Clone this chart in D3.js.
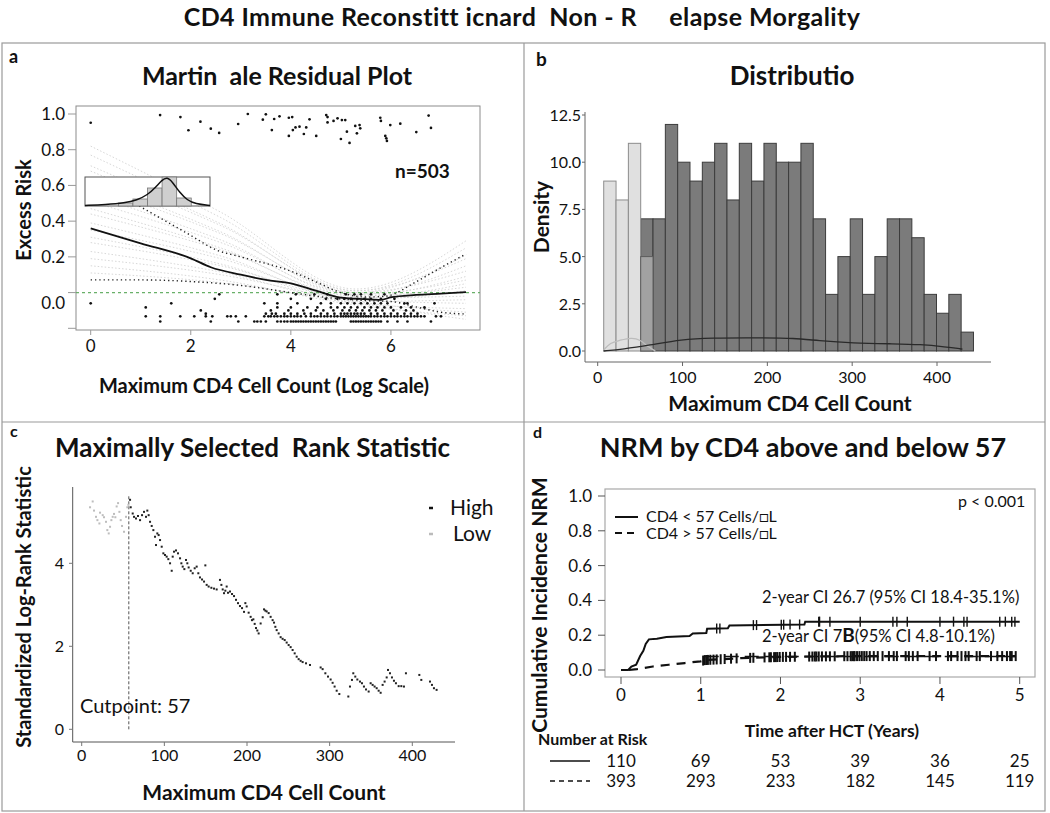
<!DOCTYPE html>
<html>
<head>
<meta charset="utf-8">
<script src="https://cdn.jsdelivr.net/npm/d3@7"></script>
<style>
  body { margin: 0; background: #fff; }
  text { font-family: Lato, "Open Sans", sans-serif; fill: #111; }
  .bold { font-weight: 700; }
</style>
</head>
<body>
<svg id="fig" width="1050" height="813"></svg>
<script>
// ---------- data: panel a (martingale residuals) ----------
let residTop = [[0,0.951],[1.387,0.994],[1.793,0.983],[1.953,0.909],[2.193,0.957],[2.4,0.918],[2.567,0.894],
  [2.947,0.944],[3.14,1.0],[3.44,0.968],[3.5,0.998],[3.62,0.91],[3.667,0.972],[3.773,0.987],[3.96,0.979],
  [4.027,0.983],[3.96,0.877],[4.04,0.91],[4.093,0.925],[4.173,0.929],[4.26,0.888],[4.307,0.925],[4.373,0.97],
  [4.507,0.877],[4.707,0.994],[4.733,0.983],[4.733,0.953],[4.853,0.961],[4.933,0.976],[5.02,0.966],[5.0,0.86],
  [5.087,0.966],[5.12,0.901],[5.173,0.838],[5.287,0.933],[5.32,0.892],[5.387,0.92],[5.373,0.938],[5.787,0.979],
  [5.8,0.961],[5.887,0.877],[5.92,0.849],[5.907,0.864],[5.987,0.938],[6.187,0.946],[6.507,0.899],[6.753,0.991],[6.8,0.922]];

// bottom cluster, listed as rows of equal residual
let residRows = [
  {y: -0.162, xs: [1.39,2.4,2.95,3.27,3.33,3.4,3.5,3.73,3.8,3.87,3.93,4.0,4.05,4.1,4.15,4.2,4.25,4.3,4.35,4.4,4.45,4.5,
    4.55,4.6,4.65,4.7,4.75,4.8,4.85,4.9,5.2,5.25,5.3,5.35,5.4,5.45,5.5,5.55,5.6,5.65,5.7,5.75,5.8,5.93,6.13,6.33,6.8]},
  {y: -0.133, xs: [1.1,1.39,1.79,2.07,2.3,2.43,2.73,2.8,2.9,3.1,3.47,3.55,3.6,3.67,3.73,3.8,3.87,3.93,4.0,4.07,4.13,4.2,
    4.3,4.4,4.47,4.53,4.6,4.67,4.73,4.8,4.87,4.93,5.0,5.05,5.1,5.15,5.2,5.25,5.3,5.35,5.4,5.45,5.5,5.55,5.6,5.67,5.73,
    5.8,5.87,5.93,6.0,6.07,6.13,6.2,6.27,6.33,6.4,6.47,6.53,6.6,6.67,6.9,7.0]},
  {y: -0.118, xs: [2.3,3.5,3.62,3.7,3.87,4.0,4.13,4.27,4.4,4.6,4.73,4.87,5.0,5.07,5.13,5.2,5.27,5.33,5.4,5.47,5.6,5.73,
    5.87,6.0,6.13,6.27,6.4,6.53]},
  {y: -0.1, xs: [2.2,3.6,3.95,4.25,4.5,4.65,4.85,5.03,5.17,5.3,5.43,5.57,5.7,5.83,6.05,6.3,6.45]},
  {y: -0.083, xs: [1.1,3.73,4.0,4.33,4.53,4.8,4.93,5.07,5.2,5.33,5.47,5.6,5.73,5.87,6.0,6.2,6.4,6.67]},
  {y: -0.06, xs: [0,1.61,3.47,3.73,4.13,4.6,4.8,5.0,5.13,5.27,5.4,5.53,5.67,5.8,5.93,6.27,6.33,6.87]},
  {y: -0.035, xs: [2.48,4.0,4.4,4.7,4.93,5.07,5.2,5.33,5.47,5.6,5.8,6.07]},
  {y: -0.01, xs: [2.57,3.73,4.1,4.47,4.73,5.1,5.27,5.4,5.6,5.87]}
];

let smoothFit = [[0,0.36],[1,0.276],[2,0.192],[2.4,0.142],[3,0.1],[3.5,0.071],[4,0.052],[4.5,0.011],[5,-0.028],
  [5.5,-0.037],[5.8,-0.041],[6,-0.026],[6.5,-0.013],[7,-0.006],[7.5,0.002]];
let bandUpper = [[0,0.64],[1,0.48],[2,0.32],[2.5,0.24],[3,0.2],[4,0.12],[4.5,0.06],[5,0.0],[5.5,-0.025],
  [5.9,-0.02],[6.5,0.06],[7,0.14],[7.5,0.216]];
let bandLower = [[0,0.071],[1,0.071],[2,0.062],[3,0.04],[4,0.0],[4.8,-0.03],[5.5,-0.045],[6,-0.05],[6.5,-0.08],
  [7,-0.11],[7.5,-0.12]];

// faint resampled fits: value at x=0, x=5.3 and x=7.5
let simStart = [0.82,0.77,0.71,0.68,0.63,0.6,0.55,0.51,0.47,0.44,0.39,0.35,0.31,0.28,0.23,0.19,0.15,0.11];
let simMid   = [0.02,0.01,0.0,0.01,-0.01,0.0,-0.02,-0.01,-0.03,-0.02,-0.04,-0.03,-0.05,-0.04,-0.06,-0.05,-0.07,-0.06];
let simEnd   = [0.29,0.25,0.21,0.19,0.15,0.12,0.09,0.07,0.05,0.03,0.01,-0.02,-0.04,-0.06,-0.09,-0.11,-0.13,-0.15];

let insetBinStart = -1.4, insetBinWidth = 0.7;
let insetCounts = [3, 7, 18, 29, 8];
let insetDensity = [[-3,0.5],[-2,1.5],[-1.1,3],[-0.5,6],[0,11],[0.4,19],[0.7,26],[0.94,29],[1.2,24],[1.56,13],
  [1.9,6],[2.3,2],[3,0.5]];

// ---------- data: panel b (histogram) ----------
let binStart = 7.1, binWidth = 14.53;
let lowCounts = [9, 8, 11, 5];          // bins 0..3
let highCounts = [7,7,12,10,9,10,11,8,11,9,11,10,10,11,7,3,5,7,3,5,7,7,6,3,2,3,1];  // bins 3..29
let highDensity = [[7,0],[30,0.1],[60,0.3],[100,0.62],[130,0.7],[200,0.7],[230,0.68],[260,0.55],[300,0.42],
  [350,0.38],[380,0.35],[410,0.22],[430,0.1]];
let lowDensity = [[7,0.05],[15,0.45],[25,0.55],[40,0.72],[50,0.6],[60,0.2],[68,0]];

// ---------- data: panel c (max selected rank statistic) ----------
let statLow = [[10.1,5.35],[13.3,5.49],[14.9,5.27],[17.3,5.12],[19.0,5.04],[21.4,4.96],[22.2,5.22],[25.4,5.16],
  [27.0,5.11],[29.4,5.0],[31.0,4.8],[32.7,4.72],[34.3,4.88],[35.9,5.04],[37.5,5.12],[39.1,5.19],[40.7,5.11],
  [42.3,5.37],[44.0,5.45],[45.6,5.24],[47.2,5.04],[48.8,4.9],[51.2,4.76],[53.6,5.12],[55.2,5.35],[56.5,5.41]];
let statHigh = [[58.5,5.53],[59.3,5.35],[61.7,5.2],[63.3,5.12],[65.7,5.08],[68.1,5.14],[70.6,5.04],[73,5.16],
  [75.4,5.24],[77.8,5.12],[79.4,5.27],[81,5.16],[82.7,5.0],[84.7,4.9],[86.7,4.8],[88.7,4.64],[89.9,4.44],
  [91.5,4.72],[93.1,4.68],[94.8,4.56],[96.8,4.4],[98.8,4.24],[100.8,4.2],[102.8,4.16],[104.8,4.1],[106.9,4.0],
  [108.9,3.82],[110.1,4.16],[111.7,4.28],[114.1,4.31],[116.5,4.24],[119,4.12],[120.6,4.0],[122.2,3.92],
  [124.2,3.86],[126.2,4.08],[127.8,4.0],[129.4,3.9],[131.9,3.82],[134.3,3.76],[136.7,3.88],[139.1,3.92],
  [141.1,3.76],[143.1,3.66],[145.6,3.61],[148,3.56],[149.6,3.95],[151.2,3.48],[153.6,3.44],[156.9,3.41],
  [160.1,3.39],[163.3,3.37],[167.3,3.6],[169,3.48],[170.6,3.37],[172.2,3.28],[173.8,3.34],[175.4,3.44],
  [177,3.29],[179.4,3.32],[181.9,3.26],[184.3,3.21],[186.7,3.12],[189.1,3.04],[191.5,2.97],[194,2.92],
  [196.4,2.83],[198,3.04],[199.6,2.96],[202,2.81],[204.4,2.71],[206,2.63],[207.7,2.65],[209.3,2.54],
  [210.9,2.44],[212.5,2.38],[214.1,2.31],[216.5,2.55],[219,2.7],[220.6,2.89],[222.2,2.86],[223.8,2.84],
  [226.2,2.8],[228.6,2.71],[231,2.63],[232.7,2.57],[234.3,2.47],[235.9,2.39],[238.3,2.31],[240.7,2.22],
  [243.1,2.18],[245.6,2.15],[248,2.09],[250.4,2.03],[252.8,1.98],[255.2,1.91],[257.7,1.83],[260.1,1.75],
  [262.5,1.69],[264.9,1.65],[267.3,1.62],[271.4,1.59],[276.2,1.55],[289.1,1.49],[291.5,1.45],[294.8,1.35],
  [298,1.27],[301.2,1.2],[303.6,1.12],[306,1.03],[308.5,0.93],[311.7,0.85],[322.6,0.79],[324.6,1.03],
  [327,1.19],[328.6,1.35],[331,1.27],[333.5,1.2],[336.7,1.15],[339.1,1.11],[341.5,1.03],[344,0.96],
  [347.2,0.91],[349.6,1.11],[352,1.07],[354.4,1.03],[356.9,0.99],[359.3,0.93],[361.7,0.88],[364.1,1.07],
  [366.5,1.15],[369,1.25],[370.6,1.43],[373,1.35],[375.4,1.25],[377.8,1.17],[380.2,1.11],[383.5,1.04],
  [386.7,1.04],[389.9,1.03],[392.3,1.35],[408.5,1.31],[410.9,1.19],[421.4,1.15],[423.8,1.07],[426.2,0.99],
  [429.4,0.95]];
let cutpoint = 57;

// ---------- data: panel d (cumulative incidence) ----------
let ciLow = [[0,0],[0.09,0],[0.13,0.02],[0.19,0.03],[0.24,0.08],[0.28,0.11],[0.31,0.15],[0.35,0.176],[0.45,0.18],
  [0.57,0.19],[0.86,0.195],[0.9,0.21],[1.07,0.213],[1.08,0.237],[1.34,0.24],[1.36,0.256],[2.3,0.262],
  [2.31,0.278],[5,0.278]];
let ciHigh = [[0.1,0],[0.2,0.005],[0.4,0.02],[0.6,0.03],[0.8,0.04],[1.0,0.05],[1.05,0.057],[1.5,0.068],
  [2.0,0.075],[2.5,0.078],[3,0.08],[4.95,0.08]];
let censorLow = [1.2,1.24,1.66,1.7,2.01,2.04,2.12,2.24,2.48,2.49,2.62,3.0,3.41,3.46,3.59,4.0,4.17,4.3,4.34,
  4.75,4.82,4.9,4.94];
let censorHigh = [1.03,1.05,1.07,1.09,1.12,1.16,1.2,1.25,1.3,1.38,1.45,1.62,1.66,1.8,1.86,1.88,1.92,1.94,1.96,
  1.99,2.03,2.07,2.12,2.18,2.36,2.4,2.43,2.45,2.48,2.52,2.57,2.62,2.68,2.8,2.84,2.88,2.9,2.92,2.93,2.96,2.99,
  3.02,3.05,3.08,3.12,3.17,3.22,3.28,3.36,3.42,3.46,3.57,3.61,3.66,3.72,3.87,3.95,4.1,4.14,4.22,4.27,4.32,
  4.36,4.46,4.5,4.64,4.72,4.78,4.84,4.88,4.9,4.95];
let riskTimes = [0, 1, 2, 3, 4, 5];
let riskLow = [110, 69, 53, 39, 36, 25];
let riskHigh = [393, 293, 233, 182, 145, 119];

// ---------- figure ----------
const svg = d3.select("#fig");
svg.append("rect").attr("width", 1050).attr("height", 813).attr("fill", "#fff");

svg.append("text")
    .attr("x", 522).attr("y", 26).attr("text-anchor", "middle")
    .attr("class", "bold")
    .style("font-size", "25px").style("letter-spacing", "0.4px").attr("xml:space", "preserve")
    .text("CD4 Immune Reconstitt icnard  Non - R     elapse Morgality");

// panel frame
const frame = svg.append("g").attr("stroke", "#9a9a9a").attr("fill", "none").attr("stroke-width", 1.2);
frame.append("rect").attr("x", 2).attr("y", 43).attr("width", 1043).attr("height", 768);
frame.append("line").attr("x1", 524).attr("x2", 524).attr("y1", 43).attr("y2", 811);
frame.append("line").attr("x1", 2).attr("x2", 1045).attr("y1", 422).attr("y2", 422);

function label(g, x, y, txt, size, opts = {}) {
    let t = g.append("text").attr("x", x).attr("y", y)
        .attr("text-anchor", opts.anchor || "start")
        .style("font-size", size + "px")
        .text(txt);
    if (opts.bold) t.attr("class", "bold");
    if (opts.rotate) t.attr("transform", `rotate(-90,${x},${y})`);
    if (opts.fill) t.style("fill", opts.fill);
    if (opts.pre) t.attr("xml:space", "preserve");
    return t;
}

// ================= panel a =================
{
    const g = svg.append("g");
    const x = d3.scaleLinear().domain([0, 7.78]).range([90.7, 480]);
    const y = d3.scaleLinear().domain([-0.2, 1]).range([328.3, 114]);
    const line = d3.line().x(d => x(d[0])).y(d => y(d[1]));

    label(g, 9, 63, "a", 18, {bold: true});
    label(g, 277, 85, "Martin  ale Residual Plot", 25, {bold: true, anchor: "middle", pre: true});

    g.append("rect").attr("x", 76).attr("y", 106).attr("width", 404).attr("height", 224)
        .attr("fill", "#fff").attr("stroke", "#8c8c8c");
    g.append("clipPath").attr("id", "clipA").append("rect")
        .attr("x", 76).attr("y", 106).attr("width", 404).attr("height", 224);
    const inner = g.append("g").attr("clip-path", "url(#clipA)");

    simStart.forEach((s, i) => {
        inner.append("path")
            .attr("d", d3.line().x(d => x(d[0])).y(d => y(d[1])).curve(d3.curveMonotoneX)([[0, s], [2.6, (s + simMid[i]) * 0.5 + 0.03], [5.3, simMid[i]], [7.5, simEnd[i]]]))
            .attr("fill", "none").attr("stroke", "#d3d3d3").attr("stroke-width", 0.9)
            .attr("stroke-dasharray", "1.5,2");
    });

    inner.append("line").attr("x1", 76).attr("x2", 480).attr("y1", y(0)).attr("y2", y(0))
        .attr("stroke", "#69b069").attr("stroke-width", 1.3).attr("stroke-dasharray", "3,3");

    [bandUpper, bandLower].forEach(b => inner.append("path")
        .attr("d", line.curve(d3.curveMonotoneX)(b))
        .attr("fill", "none").attr("stroke", "#222").attr("stroke-width", 1.4)
        .attr("stroke-dasharray", "1.3,3"));
    inner.append("path").attr("d", line.curve(d3.curveMonotoneX)(smoothFit))
        .attr("fill", "none").attr("stroke", "#111").attr("stroke-width", 1.8);

    const pts = residTop.concat(residRows.flatMap(r => r.xs.map(v => [v, r.y])));
    inner.selectAll("circle.pt").data(pts).enter().append("circle")
        .attr("cx", d => x(d[0])).attr("cy", d => y(d[1])).attr("r", 1.35).attr("fill", "#111");

    // y ticks (the 0.0 label sits below its tick in the original)
    const tv = [1, 0.8, 0.6, 0.4, 0.2, 0, -0.2];
    g.selectAll("line.yt").data(tv).enter().append("line")
        .attr("x1", 68).attr("x2", 76).attr("y1", d => y(d)).attr("y2", d => y(d))
        .attr("stroke", "#999");
    g.selectAll("text.yl").data([1, 0.8, 0.6, 0.4, 0.2]).enter().append("text")
        .attr("x", 65).attr("y", d => y(d) + 6).attr("text-anchor", "end")
        .style("font-size", "17px").text(d3.format(".1f"));
    label(g, 65, y(-0.06) + 6, "0.0", 17, {anchor: "end"});

    g.selectAll("line.xt").data([0, 2, 4, 6]).enter().append("line")
        .attr("x1", d => x(d)).attr("x2", d => x(d)).attr("y1", 330).attr("y2", 335).attr("stroke", "#999");
    g.selectAll("text.xl").data([0, 2, 4, 6]).enter().append("text")
        .attr("x", d => x(d)).attr("y", 352).attr("text-anchor", "middle")
        .style("font-size", "17px").text(d => d);

    label(g, 264, 393, "Maximum CD4 Cell Count (Log Scale)", 20, {bold: true, anchor: "middle"});
    label(g, 31, 210, "Excess Risk", 20, {bold: true, anchor: "middle", rotate: true});
    label(g, 395, 178, "n=503", 19, {bold: true});

    // inset histogram of residuals
    const ix = d3.scaleLinear().domain([-3, 3]).range([85, 210]);
    const iy = d3.scaleLinear().domain([0, 29]).range([206, 177]);
    g.append("rect").attr("x", 85).attr("y", 177).attr("width", 125).attr("height", 29)
        .attr("fill", "#fff").attr("stroke", "#555");
    g.selectAll("rect.ib").data(insetCounts).enter().append("rect")
        .attr("x", (d, i) => ix(insetBinStart + i * insetBinWidth))
        .attr("width", ix(insetBinWidth) - ix(0))
        .attr("y", d => iy(d)).attr("height", d => iy(0) - iy(d))
        .attr("fill", "#cfcfcf").attr("stroke", "#777").attr("stroke-width", 0.8);
    g.append("path").attr("d", d3.line().x(d => ix(d[0])).y(d => iy(d[1])).curve(d3.curveBasis)(insetDensity))
        .attr("fill", "none").attr("stroke", "#111").attr("stroke-width", 1.5);
}

// ================= panel b =================
{
    const g = svg.append("g");
    const x = d3.scaleLinear().domain([0, 400]).range([597.7, 937]);
    const y = d3.scaleLinear().domain([0, 12.5]).range([351, 115]);

    label(g, 536, 66, "b", 19, {bold: true});
    label(g, 792, 85, "Distributio", 26, {bold: true, anchor: "middle"});

    const bins = highCounts.map((c, i) => ({i: i + 3, c: c}));
    g.selectAll("rect.hb").data(bins).enter().append("rect")
        .attr("x", d => x(binStart + d.i * binWidth)).attr("width", x(binWidth) - x(0))
        .attr("y", d => y(d.c)).attr("height", d => y(0) - y(d.c))
        .attr("fill", "#7b7b7b").attr("stroke", "#3c3c3c").attr("stroke-width", 1);
    g.selectAll("rect.lb").data(lowCounts).enter().append("rect")
        .attr("x", (d, i) => x(binStart + i * binWidth)).attr("width", x(binWidth) - x(0))
        .attr("y", d => y(d)).attr("height", d => y(0) - y(d))
        .attr("fill", (d, i) => i < 3 ? "#e0e0e0" : "#a2a2a2")
        .attr("stroke", (d, i) => i < 3 ? "#8c8c8c" : "#5c5c5c").attr("stroke-width", 1);

    const dl = d3.line().x(d => x(d[0])).y(d => y(d[1])).curve(d3.curveBasis);
    g.append("path").attr("d", dl(lowDensity)).attr("fill", "none").attr("stroke", "#bcbcbc").attr("stroke-width", 1.3);
    g.append("path").attr("d", dl(highDensity)).attr("fill", "none").attr("stroke", "#2a2a2a").attr("stroke-width", 1.3);

    g.append("line").attr("x1", 585).attr("x2", 585).attr("y1", 112).attr("y2", 362).attr("stroke", "#666");
    g.append("line").attr("x1", 585).attr("x2", 991).attr("y1", 362).attr("y2", 362).attr("stroke", "#666");

    const yt = [0, 2.5, 5, 7.5, 10, 12.5];
    g.selectAll("line.yt").data(yt).enter().append("line")
        .attr("x1", 582).attr("x2", 585).attr("y1", d => y(d)).attr("y2", d => y(d)).attr("stroke", "#666");
    g.selectAll("text.yl").data(yt).enter().append("text")
        .attr("x", 581).attr("y", d => y(d) + 6).attr("text-anchor", "end")
        .style("font-size", "16px").text(d3.format(".1f"));
    const xt = [0, 100, 200, 300, 400];
    g.selectAll("line.xt").data(xt).enter().append("line")
        .attr("x1", d => x(d)).attr("x2", d => x(d)).attr("y1", 362).attr("y2", 366).attr("stroke", "#666");
    g.selectAll("text.xl").data(xt).enter().append("text")
        .attr("x", d => x(d)).attr("y", 383).attr("text-anchor", "middle")
        .style("font-size", "16px").text(d => d);

    label(g, 790, 411, "Maximum CD4 Cell Count", 21, {bold: true, anchor: "middle"});
    label(g, 549, 217, "Density", 21, {bold: true, anchor: "middle", rotate: true});
}

// ================= panel c =================
{
    const g = svg.append("g");
    const x = d3.scaleLinear().domain([0, 400]).range([81.7, 412.3]);
    const y = d3.scaleLinear().domain([0, 4]).range([729.3, 563.3]);

    label(g, 10, 437, "c", 16, {bold: true});
    label(g, 55, 457, "Maximally Selected  Rank Statistic", 26, {bold: true, pre: true});

    g.append("line").attr("x1", x(cutpoint)).attr("x2", x(cutpoint)).attr("y1", y(0)).attr("y2", y(5.62))
        .attr("stroke", "#555").attr("stroke-width", 1).attr("stroke-dasharray", "3,2");

    g.selectAll("rect.lo").data(statLow).enter().append("rect")
        .attr("x", d => x(d[0]) - 1).attr("y", d => y(d[1]) - 1).attr("width", 2).attr("height", 2)
        .attr("fill", "#bdbdbd");
    g.selectAll("rect.hi").data(statHigh).enter().append("rect")
        .attr("x", d => x(d[0]) - 1).attr("y", d => y(d[1]) - 1).attr("width", 2).attr("height", 2)
        .attr("fill", "#222");

    g.append("line").attr("x1", 72.7).attr("x2", 72.7).attr("y1", 487).attr("y2", 742).attr("stroke", "#555");
    g.append("line").attr("x1", 72.7).attr("x2", 455).attr("y1", 742).attr("y2", 742).attr("stroke", "#555");

    const yt = [0, 2, 4];
    g.selectAll("line.yt").data(yt).enter().append("line")
        .attr("x1", 69).attr("x2", 72.7).attr("y1", d => y(d)).attr("y2", d => y(d)).attr("stroke", "#777");
    g.selectAll("text.yl").data(yt).enter().append("text")
        .attr("x", 64).attr("y", d => y(d) + 6).attr("text-anchor", "end")
        .style("font-size", "16px").text(d => d);
    const xt = [0, 100, 200, 300, 400];
    g.selectAll("line.xt").data(xt).enter().append("line")
        .attr("x1", d => x(d)).attr("x2", d => x(d)).attr("y1", 742).attr("y2", 746).attr("stroke", "#777");
    g.selectAll("text.xl").data(xt).enter().append("text")
        .attr("x", d => x(d)).attr("y", 761).attr("text-anchor", "middle")
        .style("font-size", "16px").text(d => d);

    label(g, 80, 713, "Cutpoint: 57", 20);
    g.append("line").attr("x1", 429).attr("x2", 433).attr("y1", 508).attr("y2", 508).attr("stroke", "#111").attr("stroke-width", 2.5);
    g.append("line").attr("x1", 429).attr("x2", 433).attr("y1", 534).attr("y2", 534).attr("stroke", "#bbb").attr("stroke-width", 2.5);
    label(g, 450, 515, "High", 21);
    label(g, 453, 541, "Low", 21);

    label(g, 264, 800, "Maximum CD4 Cell Count", 21, {bold: true, anchor: "middle"});
    label(g, 31, 607, "Standardized Log-Rank Statistic", 20, {bold: true, anchor: "middle", rotate: true});
}

// ================= panel d =================
{
    const g = svg.append("g");
    const x = d3.scaleLinear().domain([0, 5]).range([621, 1019.7]);
    const y = d3.scaleLinear().domain([0, 1]).range([670, 496]);
    const line = d3.line().x(d => x(d[0])).y(d => y(d[1]));
    const valueAt = (pts, t) => {
        let v = pts[0][1];
        for (let i = 1; i < pts.length; i++) {
            if (pts[i][0] <= t) v = pts[i][1];
            else { const a = pts[i - 1], b = pts[i]; v = a[1] + (b[1] - a[1]) * (t - a[0]) / (b[0] - a[0]); break; }
        }
        return v;
    };

    label(g, 533, 438, "d", 16, {bold: true});
    label(g, 803, 457, "NRM by CD4 above and below 57", 27, {bold: true, anchor: "middle"});

    g.append("rect").attr("x", 605).attr("y", 489).attr("width", 430).attr("height", 188)
        .attr("fill", "none").attr("stroke", "#a8a8a8").attr("stroke-width", 1.2);

    g.append("path").attr("d", line(ciLow)).attr("fill", "none").attr("stroke", "#111").attr("stroke-width", 2);
    g.append("path").attr("d", line(ciHigh)).attr("fill", "none").attr("stroke", "#111").attr("stroke-width", 2.2)
        .attr("stroke-dasharray", "9,7");
    g.selectAll("line.cl").data(censorLow).enter().append("line")
        .attr("x1", d => x(d)).attr("x2", d => x(d))
        .attr("y1", d => y(valueAt(ciLow, d)) - 5).attr("y2", d => y(valueAt(ciLow, d)) + 5)
        .attr("stroke", "#111").attr("stroke-width", 1.4);
    g.selectAll("line.ch").data(censorHigh).enter().append("line")
        .attr("x1", d => x(d)).attr("x2", d => x(d))
        .attr("y1", d => y(valueAt(ciHigh, d)) - 5).attr("y2", d => y(valueAt(ciHigh, d)) + 5)
        .attr("stroke", "#111").attr("stroke-width", 2);
    g.append("line").attr("x1", x(1.05)).attr("x2", x(4.95)).attr("y1", y(0.078)).attr("y2", y(0.078))
        .attr("stroke", "#111").attr("stroke-width", 1.4).attr("stroke-dasharray", "14,6");

    const yt = [0, 0.2, 0.4, 0.6, 0.8, 1];
    g.selectAll("line.yt").data(yt).enter().append("line")
        .attr("x1", 598).attr("x2", 605).attr("y1", d => y(d)).attr("y2", d => y(d)).attr("stroke", "#555");
    g.selectAll("text.yl").data(yt).enter().append("text")
        .attr("x", 592).attr("y", d => y(d) + 6).attr("text-anchor", "end")
        .style("font-size", "17px").text(d3.format(".1f"));
    g.selectAll("line.xt").data(riskTimes).enter().append("line")
        .attr("x1", d => x(d)).attr("x2", d => x(d)).attr("y1", 677).attr("y2", 684).attr("stroke", "#555");
    g.selectAll("text.xl").data(riskTimes).enter().append("text")
        .attr("x", d => x(d)).attr("y", 701).attr("text-anchor", "middle")
        .style("font-size", "17px").text(d => d);

    label(g, 958, 507, "p < 0.001", 16);
    g.append("line").attr("x1", 615).attr("x2", 638).attr("y1", 517).attr("y2", 517).attr("stroke", "#111").attr("stroke-width", 2);
    g.append("line").attr("x1", 615).attr("x2", 638).attr("y1", 533).attr("y2", 533).attr("stroke", "#111").attr("stroke-width", 2)
        .attr("stroke-dasharray", "7,5");
    label(g, 646, 522, "CD4 < 57 Cells/\u25A1L", 16);
    label(g, 646, 539, "CD4 > 57 Cells/\u25A1L", 16);

    label(g, 762, 603, "2-year CI 26.7 (95% CI 18.4-35.1%)", 16.5);
    const t2 = label(g, 762, 642, "2-year CI 7", 16.5);
    t2.append("tspan").attr("font-weight", 700).style("font-size", "19px").text("B");
    t2.append("tspan").text("(95% CI 4.8-10.1%)");

    label(g, 832, 737, "Time after HCT (Years)", 17.5, {bold: true, anchor: "middle"});
    label(g, 547, 605, "Cumulative Incidence NRM", 21, {bold: true, anchor: "middle", rotate: true});

    label(g, 538, 745, "Number at Risk", 16, {bold: true});
    g.append("line").attr("x1", 550).attr("x2", 590).attr("y1", 761).attr("y2", 761).attr("stroke", "#111").attr("stroke-width", 1.6);
    g.append("line").attr("x1", 550).attr("x2", 590).attr("y1", 781).attr("y2", 781).attr("stroke", "#111").attr("stroke-width", 1.4)
        .attr("stroke-dasharray", "5,4");
    g.selectAll("text.r1").data(riskLow).enter().append("text")
        .attr("x", (d, i) => x(riskTimes[i])).attr("y", 767).attr("text-anchor", "middle")
        .style("font-size", "17px").text(d => d);
    g.selectAll("text.r2").data(riskHigh).enter().append("text")
        .attr("x", (d, i) => x(riskTimes[i])).attr("y", 787).attr("text-anchor", "middle")
        .style("font-size", "17px").text(d => d);
}
</script>
</body>
</html>
